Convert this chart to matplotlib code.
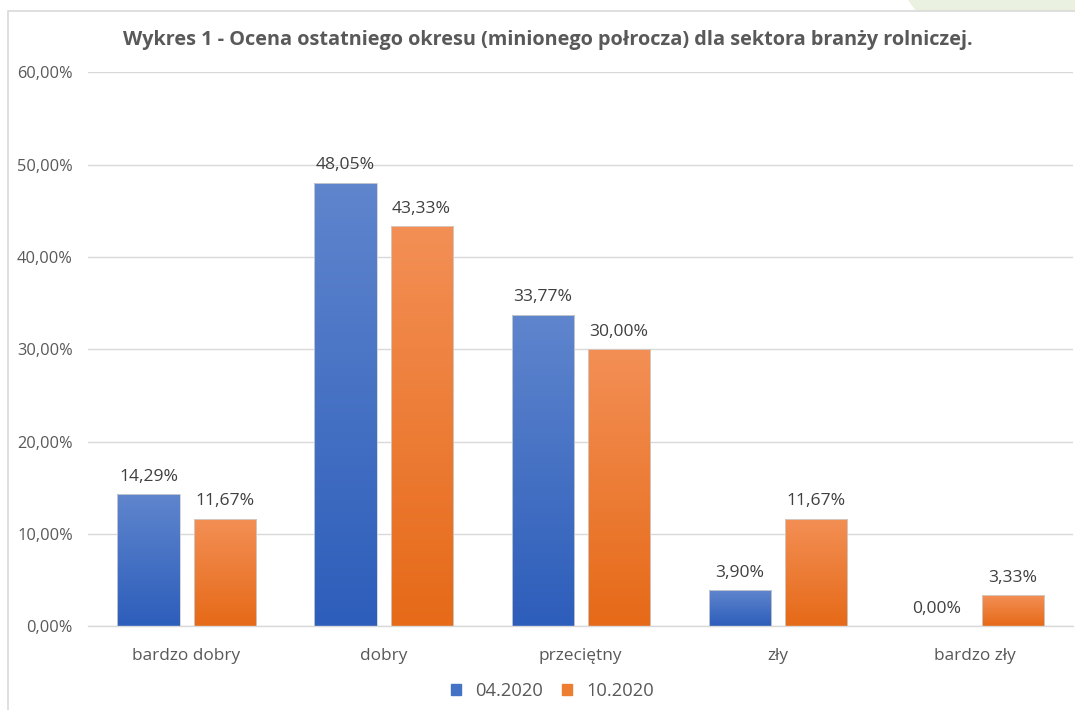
import numpy as np
import matplotlib.pyplot as plt
from matplotlib.patches import Rectangle, Polygon

plt.rcParams['font.family'] = ['Open Sans', 'DejaVu Sans']

categories = ['bardzo dobry', 'dobry', 'przeciętny', 'zły', 'bardzo zły']
series_names = ['04.2020', '10.2020']
values_04 = [14.29, 48.05, 33.77, 3.90, 0.00]
values_10 = [11.67, 43.33, 30.00, 11.67, 3.33]
yticks = [0, 10, 20, 30, 40, 50, 60]

title = 'Wykres 1 - Ocena ostatniego okresu (minionego połrocza) dla sektora branży rolniczej.'

fig = plt.figure(figsize=(10.75, 7.1), dpi=100)
fig.patch.set_facecolor('white')

# faint green background shape at top right and chart frame
fig.patches.append(Polygon([[0.845, 1.0], [1.0, 1.0], [1.0, 0.984], [0.852, 0.984]],
                           closed=True, transform=fig.transFigure,
                           facecolor='#EAF1E0', edgecolor='none', zorder=0))
fig.patches.append(Rectangle((0.0075, -0.01), 1.1, 0.995, transform=fig.transFigure,
                             facecolor='white', edgecolor='#D9D9D9', lw=1.2, zorder=1))

ax = fig.add_axes([0.0819, 0.118, 0.9163, 0.780])
ax.set_zorder(2)
ax.patch.set_alpha(0)

x = np.arange(len(categories))
w = 0.315
off = 0.193

def gradient_bars(xs, vals, top, bottom):
    bars = ax.bar(xs, vals, width=w, color='none', edgecolor='#D0D0D0', lw=0.6, zorder=3)
    grad = np.linspace(0, 1, 100).reshape(-1, 1)
    c_top = np.array(plt.matplotlib.colors.to_rgb(top))
    c_bot = np.array(plt.matplotlib.colors.to_rgb(bottom))
    img = c_top[None, None, :] * (1 - grad[..., None]) + c_bot[None, None, :] * grad[..., None]
    for b in bars:
        h = b.get_height()
        if h <= 0:
            continue
        x0 = b.get_x()
        im = ax.imshow(img, extent=(x0, x0 + b.get_width(), 0, h), aspect='auto',
                       origin='upper', zorder=2.5)
        im.set_clip_path(b)
    return bars

b1 = gradient_bars(x - off, values_04, '#5F85CD', '#2D5EBB')
b2 = gradient_bars(x + off, values_10, '#F38F55', '#E66A18')

for xs, vals in ((x - off, values_04), (x + off, values_10)):
    for xi, v in zip(xs, vals):
        ax.text(xi, v + 1.0, f'{v:.2f}%'.replace('.', ','), ha='center', va='bottom',
                fontsize=12.6, color='#404040', zorder=4)

ax.set_xlim(-0.5, len(categories) - 0.5)
ax.set_ylim(0, 60)
ax.set_yticks(yticks)
ax.set_yticklabels([f'{t:.2f}%'.replace('.', ',') for t in yticks])
ax.set_xticks(x)
ax.set_xticklabels(categories)
ax.tick_params(axis='y', length=0, labelsize=11.8, labelcolor='#595959', pad=11)
ax.tick_params(axis='x', length=0, labelsize=12.4, labelcolor='#595959', pad=16)
ax.grid(axis='y', color='#D9D9D9', lw=1.0)
ax.set_axisbelow(True)
for s in ['top', 'right', 'left']:
    ax.spines[s].set_visible(False)
ax.spines['bottom'].set_color('#D9D9D9')
ax.spines['bottom'].set_linewidth(1.0)

fig.text(0.51, 0.943, title, ha='center', va='center', fontsize=14.3,
         fontweight='bold', color='#595959')

handles = [Rectangle((0, 0), 1, 1, color='#4472C4'), Rectangle((0, 0), 1, 1, color='#ED7D31')]
fig.legend(handles, series_names, loc='center', bbox_to_anchor=(0.514, 0.027), ncol=2,
           frameon=False, fontsize=13.2, labelcolor='#595959', handlelength=0.55,
           handleheight=0.55, columnspacing=1.0, handletextpad=0.8)

fig.savefig('out.png', dpi=100)
